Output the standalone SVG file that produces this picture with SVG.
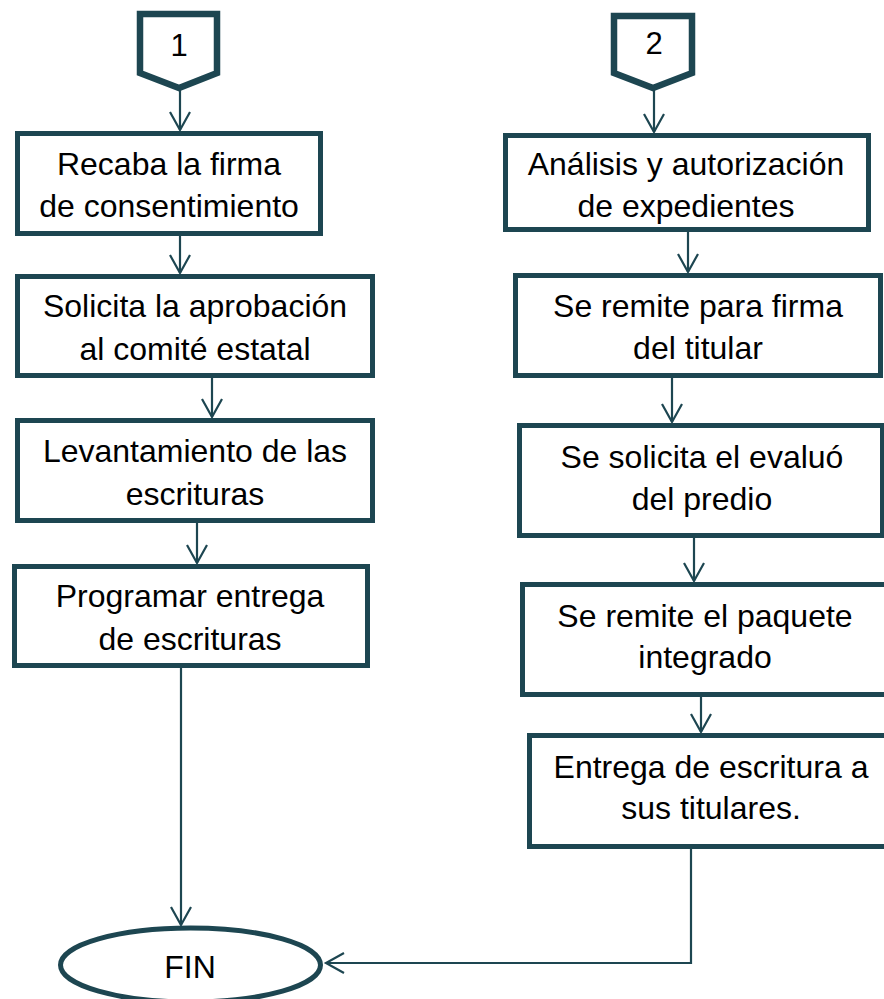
<svg xmlns="http://www.w3.org/2000/svg" width="884" height="999" viewBox="0 0 884 999">
<style>
.box{fill:#fff;stroke:#1d4651;stroke-width:5}
.pent{fill:#fff;stroke:#1d4651;stroke-width:6.5;stroke-linejoin:miter}
.t{font-family:"Liberation Sans",Arial,sans-serif;font-size:32px;fill:#000;text-anchor:middle}
.n{font-family:"Liberation Sans",Arial,sans-serif;font-size:31px;fill:#000;text-anchor:middle}
.c{fill:none;stroke:#1d4651;stroke-width:2.2}
</style>
<defs>
<marker id="ah" markerUnits="userSpaceOnUse" markerWidth="24" markerHeight="24" refX="0" refY="0" orient="auto" overflow="visible" viewBox="-20 -12 24 24">
<path d="M-18,-10 L0,0 L-18,10" fill="none" stroke="#1d4651" stroke-width="2.2"/>
</marker>
</defs>
<rect width="884" height="999" fill="#fff"/>
<g id="connectors">
<line class="c" x1="180" y1="90" x2="180" y2="130" marker-end="url(#ah)"/>
<line class="c" x1="180" y1="236" x2="180" y2="273" marker-end="url(#ah)"/>
<line class="c" x1="212" y1="378" x2="212" y2="417" marker-end="url(#ah)"/>
<line class="c" x1="197" y1="523" x2="197" y2="563" marker-end="url(#ah)"/>
<line class="c" x1="181" y1="668" x2="181" y2="925" marker-end="url(#ah)"/>
<line class="c" x1="654" y1="89" x2="654" y2="132" marker-end="url(#ah)"/>
<line class="c" x1="688" y1="232" x2="688" y2="272" marker-end="url(#ah)"/>
<line class="c" x1="672" y1="378" x2="672" y2="422" marker-end="url(#ah)"/>
<line class="c" x1="694" y1="538" x2="694" y2="581" marker-end="url(#ah)"/>
<line class="c" x1="701" y1="697" x2="701" y2="732" marker-end="url(#ah)"/>
<path class="c" d="M691,849 V963 H326" marker-end="url(#ah)"/>
</g>
<g id="conn1">
<polygon class="pent" points="140,14 217,14 217,73 179,88 140,73"/>
<text class="n" x="179" y="56">1</text>
</g>
<g id="conn2">
<polygon class="pent" points="614,16 692,16 692,73 653,88 614,73"/>
<text class="n" x="654" y="54">2</text>
</g>
<g id="L1">
<rect class="box" x="17.5" y="133.5" width="303" height="100"/>
<text class="t" x="169" y="175">Recaba la firma</text>
<text class="t" x="169" y="217">de consentimiento</text>
</g>
<g id="L2">
<rect class="box" x="17.5" y="276.5" width="355" height="99"/>
<text class="t" x="195" y="317">Solicita la aprobación</text>
<text class="t" x="195" y="360">al comité estatal</text>
</g>
<g id="L3">
<rect class="box" x="17.5" y="420.5" width="355" height="100"/>
<text class="t" x="195" y="462">Levantamiento de las</text>
<text class="t" x="195" y="505">escrituras</text>
</g>
<g id="L4">
<rect class="box" x="14.5" y="566.5" width="353" height="99"/>
<text class="t" x="190" y="607">Programar entrega</text>
<text class="t" x="190" y="650">de escrituras</text>
</g>
<g id="R1">
<rect class="box" x="505.5" y="135.5" width="363" height="94"/>
<text class="t" x="686" y="175">Análisis y autorización</text>
<text class="t" x="686" y="217">de expedientes</text>
</g>
<g id="R2">
<rect class="box" x="515.5" y="275.5" width="365" height="100"/>
<text class="t" x="698" y="317">Se remite para firma</text>
<text class="t" x="698" y="359">del titular</text>
</g>
<g id="R3">
<rect class="box" x="519.5" y="425.5" width="363" height="110"/>
<text class="t" x="702" y="468">Se solicita el evaluó</text>
<text class="t" x="702" y="510">del predio</text>
</g>
<g id="R4">
<rect class="box" x="522.5" y="584.5" width="370" height="110"/>
<text class="t" x="705" y="627">Se remite el paquete</text>
<text class="t" x="705" y="668">integrado</text>
</g>
<g id="R5">
<rect class="box" x="529.5" y="735.5" width="370" height="111"/>
<text class="t" x="711" y="778">Entrega de escritura a</text>
<text class="t" x="711" y="819">sus titulares.</text>
</g>
<g id="FIN">
<ellipse cx="190.5" cy="965" rx="130" ry="37" fill="#fff" stroke="#1d4651" stroke-width="5"/>
<text class="t" x="190" y="978">FIN</text>
</g>
</svg>
